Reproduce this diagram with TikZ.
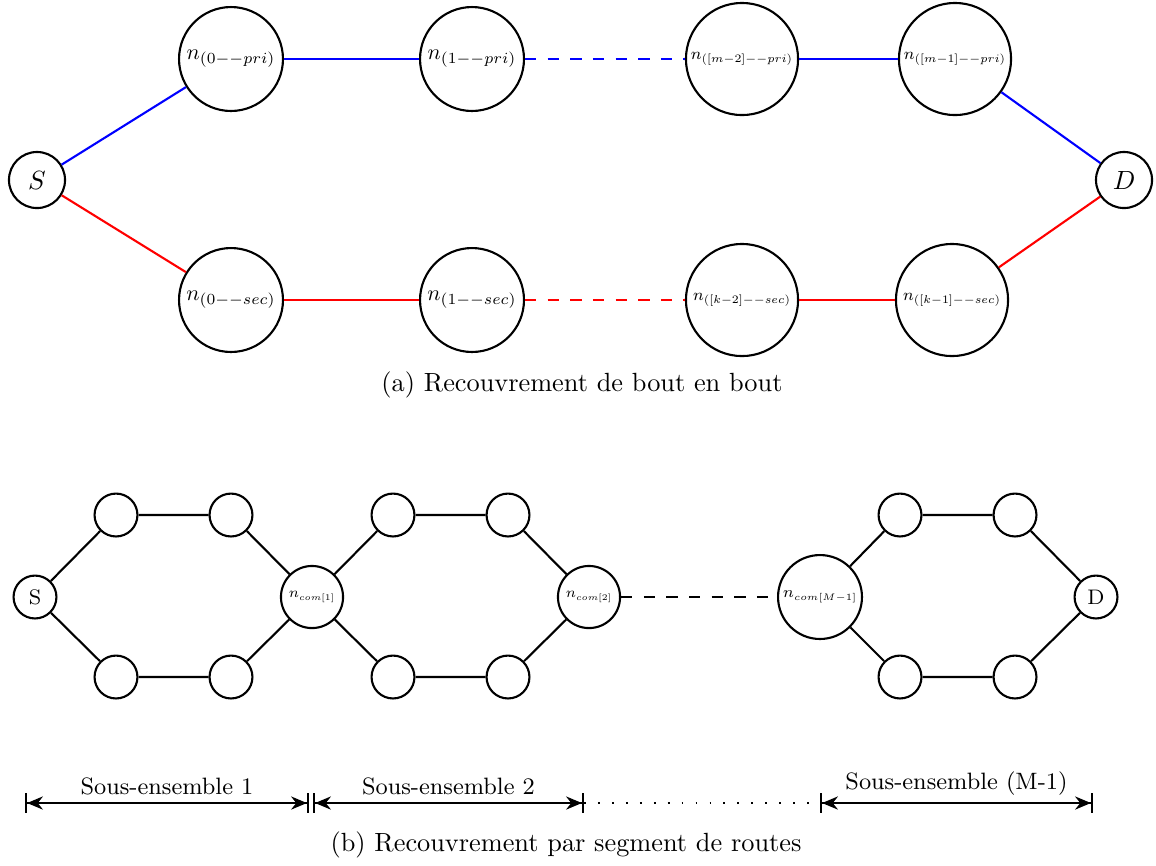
\documentclass[tikz,border=0pt]{standalone}
\usetikzlibrary{arrows.meta}
\newcommand{\sclbl}[2]{\scalebox{#1}{#2}}
\newcommand{\bign}[1]{\scalebox{#1}{$n$}}
\begin{document}
\begin{tikzpicture}[x=0.38pt,y=-0.38pt,
  nd/.style={circle,draw,thick,inner sep=0pt},
  big/.style={nd,minimum size=39.5pt},
  bigw/.style={nd,minimum size=42.6pt},
  ep/.style={nd,minimum size=21.3pt},
  sm/.style={nd,minimum size=16.3pt,font=\footnotesize},
  com/.style={nd,minimum size=23.6pt},
  comw/.style={nd,minimum size=31.9pt},
  pri/.style={blue,thick},
  sec/.style={red,thick},
  link/.style={thick},
  dsh/.style={dash pattern=on 4.3pt off 4.3pt},
  dimline/.style={thick,arrows={Bar[width=7.5pt]Stealth[length=6pt,width=5pt]-Stealth[length=6pt,width=5pt]Bar[width=7.5pt]}},
  dimlabel/.style={midway,above,inner sep=2.5pt,font=\small},
  captext/.style={inner sep=0pt}]
\useasboundingbox (0,0) rectangle (1156,865);

% ---------- (a) ----------
\node[ep] (S) at (37,180) {$S$};
\node[ep] (D) at (1124,180) {$D$};
\node[big] (p0) at (231,59) {\sclbl{0.84}{$n_{(0--pri)}$}};
\node[big] (p1) at (472,59) {\sclbl{0.84}{$n_{(1--pri)}$}};
\node[bigw] (pm2) at (742,59) {\sclbl{0.72}{\footnotesize$\bign{1.1}_{([m-2]--pri)}$}};
\node[bigw] (pm1) at (955,59) {\sclbl{0.72}{\footnotesize$\bign{1.1}_{([m-1]--pri)}$}};
\node[big] (s0) at (231,300) {\sclbl{0.84}{$n_{(0--sec)}$}};
\node[big] (s1) at (472,300) {\sclbl{0.84}{$n_{(1--sec)}$}};
\node[bigw] (sk2) at (742,300) {\sclbl{0.72}{\footnotesize$\bign{1.1}_{([k-2]--sec)}$}};
\node[bigw] (sk1) at (952,300) {\sclbl{0.72}{\footnotesize$\bign{1.1}_{([k-1]--sec)}$}};

\draw[pri] (S) -- (p0);
\draw[pri] (p0) -- (p1);
\draw[pri,dsh] (p1) -- (pm2);
\draw[pri] (pm2) -- (pm1);
\draw[pri] (pm1) -- (D);
\draw[sec] (S) -- (s0);
\draw[sec] (s0) -- (s1);
\draw[sec,dsh] (s1) -- (sk2);
\draw[sec] (sk2) -- (sk1);
\draw[sec] (sk1) -- (D);

\node[captext] (capa) at (582,385) {(a) Recouvrement de bout en bout};

% ---------- (b) ----------
\node[sm] (bs) at (35,597) {S};
\node[sm] (a1) at (116,515) {};
\node[sm] (a2) at (231,515) {};
\node[sm] (c1) at (116,677) {};
\node[sm] (c2) at (231,677) {};
\node[com] (m1) at (312,597) {\sclbl{0.66}{\scriptsize$\bign{1.2}_{com[1]}$}};
\node[sm] (a3) at (393,515) {};
\node[sm] (a4) at (508,515) {};
\node[sm] (c3) at (393,677) {};
\node[sm] (c4) at (508,677) {};
\node[com] (m2) at (589,597) {\sclbl{0.66}{\scriptsize$\bign{1.2}_{com[2]}$}};
\node[comw] (mm) at (820,597) {\sclbl{0.72}{\scriptsize$\bign{1.2}_{com[M-1]}$}};
\node[sm] (a5) at (900,515) {};
\node[sm] (a6) at (1015,515) {};
\node[sm] (c5) at (900,677) {};
\node[sm] (c6) at (1015,677) {};
\node[sm] (bd) at (1096,597) {D};

\draw[link] (bs) -- (a1) -- (a2) -- (m1);
\draw[link] (bs) -- (c1) -- (c2) -- (m1);
\draw[link] (m1) -- (a3) -- (a4) -- (m2);
\draw[link] (m1) -- (c3) -- (c4) -- (m2);
\draw[link,dsh] (m2) -- (mm);
\draw[link] (mm) -- (a5) -- (a6) -- (bd);
\draw[link] (mm) -- (c5) -- (c6) -- (bd);

\coordinate (d0) at (25,803);
\coordinate (d1) at (309,803);
\coordinate (d2) at (313,803);
\coordinate (d3) at (584,803);
\coordinate (d4) at (820,803);
\coordinate (d5) at (1093,803);
\draw[dimline] (d0) -- (d1) node[dimlabel] {Sous-ensemble 1};
\draw[dimline] (d2) -- (d3) node[dimlabel] {Sous-ensemble 2};
\draw[line width=0.7pt,dash pattern=on 0.7pt off 4.6pt] (d3) -- (d4);
\draw[dimline] (d4) -- (d5) node[dimlabel] {Sous-ensemble (M-1)};

\node[captext] (capb) at (566,845) {(b) Recouvrement par segment de routes};
\end{tikzpicture}
\end{document}
